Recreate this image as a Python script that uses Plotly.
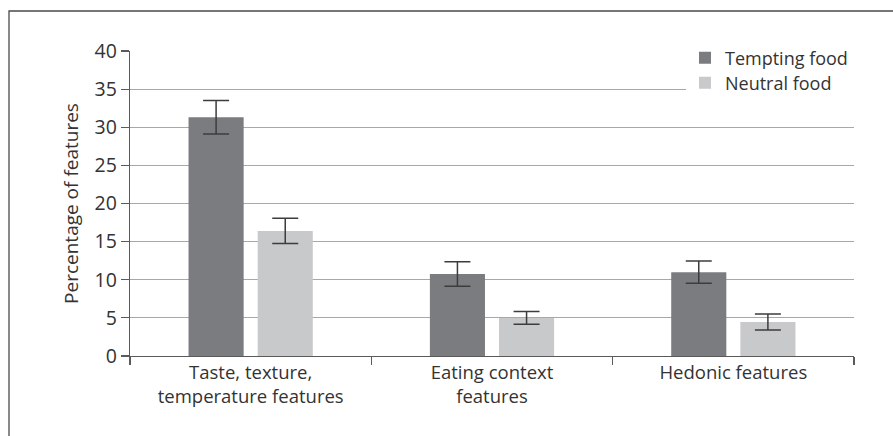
import plotly.graph_objects as go

categories = ["Taste, texture,<br>temperature features", "Eating context<br>features", "Hedonic features"]
tempting = [31.3, 10.75, 11.0]
tempting_err = [2.2, 1.6, 1.45]
neutral = [16.4, 5.0, 4.45]
neutral_err = [1.65, 0.85, 1.05]
y_ticks = [0, 5, 10, 15, 20, 25, 30, 35, 40]

FONT = "Open Sans"
TXT = "#333333"

fig = go.Figure()
fig.add_trace(go.Bar(
    name="Tempting food", x=categories, y=tempting, legend="legend",
    marker=dict(color="#7b7c80", line=dict(width=0)),
    error_y=dict(type="data", array=tempting_err, color="#3c3c3c", thickness=1.5, width=13),
))
fig.add_trace(go.Bar(
    name="Neutral food", x=categories, y=neutral, legend="legend2",
    marker=dict(color="#c8c9cb", line=dict(width=0)),
    error_y=dict(type="data", array=neutral_err, color="#3c3c3c", thickness=1.5, width=13),
))

W, H = 893, 436
L, R, T, B = 130, 39, 51, 80
pw, ph = W - L - R, H - T - B

def px_x(px):
    return (px - L) / pw

def px_y(py):
    return (H - B - py) / ph

leg_common = dict(
    xanchor="left", yanchor="middle", bgcolor="rgba(0,0,0,0)", borderwidth=0,
    font=dict(size=18, color=TXT), itemsizing="constant",
)

fig.update_layout(
    width=W, height=H,
    margin=dict(l=L, r=R, t=T, b=B, pad=0),
    paper_bgcolor="white", plot_bgcolor="white",
    barmode="group", bargap=0.427, bargroupgap=0.203,
    font=dict(family=FONT, size=18.5, color=TXT),
    showlegend=True,
    legend=dict(x=px_x(685), y=px_y(58), **leg_common),
    legend2=dict(x=px_x(685), y=px_y(83), **leg_common),
    xaxis=dict(
        showline=True, linecolor="#5a5a5a", linewidth=1.2,
        ticks="outside", tickson="boundaries", ticklen=8, tickcolor="#5a5a5a", tickwidth=1.2,
        showgrid=False, tickfont=dict(size=18.5, color=TXT),
    ),
    yaxis=dict(
        range=[0, 40], tickvals=y_ticks, ticks="outside", ticklen=8,
        tickcolor="#5a5a5a", tickwidth=1.2,
        showline=True, linecolor="#5a5a5a", linewidth=1.2,
        showgrid=True, gridcolor="#a8a8a8", gridwidth=1.2,
        zeroline=False, tickfont=dict(size=19.5, color=TXT),
        title=dict(text="Percentage of features", font=dict(size=19, color=TXT), standoff=11),
    ),
    shapes=[
        dict(
            type="rect", xref="paper", yref="paper",
            x0=px_x(686), x1=px_x(856), y0=px_y(96), y1=px_y(44),
            line=dict(width=0), fillcolor="white", layer="above",
        ),
        dict(
            type="rect", xref="paper", yref="paper",
            x0=px_x(9), x1=px_x(W + 20),
            y0=px_y(H + 20), y1=px_y(11),
            line=dict(color="#4a4a4a", width=1.3), fillcolor="rgba(0,0,0,0)", layer="above",
        ),
    ],
)

fig.write_html(
    "out.html",
    config={"displayModeBar": False, "staticPlot": True},
    post_script="document.body.style.margin='0';document.body.style.overflow='hidden';",
)
